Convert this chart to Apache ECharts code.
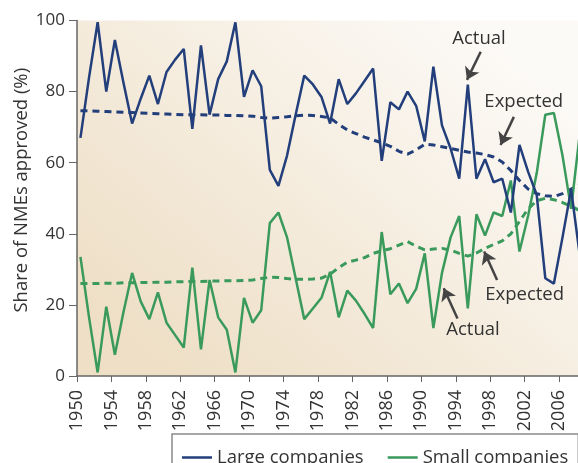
<!DOCTYPE html>
<html>
<head>
<meta charset="utf-8">
<script src="https://cdn.jsdelivr.net/npm/echarts@6/dist/echarts.min.js"></script>
<style>
html, body {margin: 0; padding: 0; background: #fff;}
#chart {width: 578px; height: 463px;}
</style>
</head>
<body>
<div id="chart"></div>
<script>
var years = [1950, 1951, 1952, 1953, 1954, 1955, 1956, 1957, 1958, 1959,
    1960, 1961, 1962, 1963, 1964, 1965, 1966, 1967, 1968, 1969,
    1970, 1971, 1972, 1973, 1974, 1975, 1976, 1977, 1978, 1979,
    1980, 1981, 1982, 1983, 1984, 1985, 1986, 1987, 1988, 1989,
    1990, 1991, 1992, 1993, 1994, 1995, 1996, 1997, 1998, 1999,
    2000, 2001, 2002, 2003, 2004, 2005, 2006, 2007, 2008];

// share of NMEs approved (%), actual
var largeActual = [67, 84, 99.5, 80, 94.5, 82.5, 71, 78, 84.5, 76.5,
    85.5, 89, 92, 69.5, 93, 73.5, 83.5, 88.5, 99.5, 78.5,
    86, 81.5, 58, 53.5, 62, 73.5, 84.5, 82, 78.5, 71,
    83.5, 76.5, 79.5, 83, 86.5, 60.5, 77, 75, 80, 76,
    66, 87, 70.5, 64, 55.5, 82, 55.5, 61, 54.5, 55.5,
    46, 65, 57.5, 51, 27.5, 26, 39, 52.5, 34];
var smallActual = [33.5, 16.5, 1, 19.5, 6, 18, 29, 21, 16, 23.5,
    15, 11.5, 8, 30.5, 7.5, 27, 16.5, 13, 1, 22,
    15, 18.5, 43, 46, 39, 27.5, 16, 19, 22, 29.3,
    16.5, 24, 21.2, 17.5, 13.5, 40.5, 23, 26, 20.5, 24.5,
    34.5, 13.5, 29, 39, 45, 19, 45.5, 39.5, 46, 45,
    55, 35, 45, 57, 73.5, 74, 62, 47, 68];

// expected share (%)
var largeExpected = [74.6, 74.6, 74.5, 74.4, 74.3, 74.2, 74.1, 74, 73.9, 73.8,
    73.7, 73.6, 73.5, 73.5, 73.5, 73.4, 73.4, 73.3, 73.3, 73.2,
    73.1, 72.7, 72.5, 72.7, 72.9, 73.2, 73.4, 73.3, 73, 72.6,
    70.8, 69.2, 68.2, 67.2, 66.4, 65.6, 64.6, 63.2, 62.4, 63.6,
    65.2, 65, 64.5, 64, 63.5, 63, 62.7, 62.3, 61.6, 60.2,
    57.8, 55, 52.6, 51.3, 50.7, 50.5, 51.3, 52.6, 53.8];
var smallExpected = [26, 26, 26, 26.1, 26.1, 26.2, 26.2, 26.3, 26.3, 26.4,
    26.4, 26.5, 26.5, 26.6, 26.6, 26.7, 26.7, 26.8, 26.8, 26.9,
    27, 27.4, 27.8, 27.7, 27.4, 27.2, 27.2, 27.3, 27.5, 28.6,
    30.5, 32, 32.6, 33.3, 34.5, 35.2, 35.8, 36.8, 37.8, 36.5,
    35.5, 35.7, 35.9, 35.4, 34.5, 33.7, 34.6, 35.9, 37, 38,
    40, 43.5, 47, 49.3, 50, 49.6, 48.8, 47.8, 46.5];

// annotations: label position and arrow [from, to], in [year, %]
var notes = [
    {text: 'Actual', at: [1996.7, 94.8], from: [1996.9, 91.2], to: [1995.3, 83.3]},
    {text: 'Expected', at: [2001.9, 77.1], from: [2000.75, 72.9], to: [1999.2, 65]},
    {text: 'Expected', at: [2002.0, 22.8], from: [1998.8, 27], to: [1997.3, 35]},
    {text: 'Actual', at: [1996.0, 12.9], from: [1994.2, 16.2], to: [1992.6, 24.7]}
];

var baseYear = 1950;
var midYear = 0.4;  // yearly values sit a bit past the year tick

function toPoints(values) {
    return years.map(function(y, i) {
        return [y - baseYear + midYear, values[i]];
    });
}
function xOf(year) {
    return year - baseYear;
}

var fontName = 'Open Sans';
var blue = '#223e7b';
var green = '#3a9a5c';

var myChart = echarts.init(document.getElementById('chart'));

myChart.setOption({
    animation: false,
    textStyle: {fontFamily: fontName},
    grid: {
        left: 77, right: 0, top: 20.5, bottom: 87,
        show: true,
        borderWidth: 0,
        backgroundColor: new echarts.graphic.LinearGradient(0.8, 0, 0.2, 1, [
            {offset: 0, color: '#fcfaf7'},
            {offset: 1, color: '#eedfc6'}
        ])
    },
    legend: {
        data: ['Large companies', 'Small companies'],
        left: 172,
        top: 434,
        width: 420,
        padding: [14, 10, 14, 10],
        icon: 'rect',
        itemWidth: 30,
        itemHeight: 2.5,
        itemGap: 24,
        borderColor: '#8a8a8a',
        borderWidth: 1.5,
        textStyle: {fontSize: 18.5, color: '#333', fontFamily: fontName}
    },
    xAxis: {
        type: 'value',
        min: 0,
        max: 58.2,
        interval: 4,
        splitLine: {show: false},
        axisLine: {lineStyle: {color: '#666', width: 1.5}},
        axisTick: {show: true, length: 6, lineStyle: {color: '#666'}},
        axisLabel: {
            rotate: 90,
            margin: 14,
            fontSize: 18,
            color: '#333',
            showMaxLabel: false,
            formatter: function(v) {
                return String(baseYear + v);
            }
        }
    },
    yAxis: {
        type: 'value',
        min: 0,
        max: 100,
        interval: 20,
        name: 'Share of NMEs approved (%)',
        nameLocation: 'middle',
        nameGap: 46,
        nameMoveOverlap: false,
        nameTextStyle: {fontSize: 18.5, color: '#333', padding: [0, 0, 0, 16]},
        splitLine: {show: false},
        axisLine: {show: true, lineStyle: {color: '#666', width: 1.5}},
        axisTick: {show: true, length: 8, lineStyle: {color: '#666'}},
        axisLabel: {fontSize: 17, color: '#333', margin: 12}
    },
    series: [
        {
            name: 'Large expected',
            type: 'line',
            symbol: 'none',
            data: toPoints(largeExpected),
            lineStyle: {color: blue, width: 3, type: [7, 5]}
        },
        {
            name: 'Small expected',
            type: 'line',
            symbol: 'none',
            data: toPoints(smallExpected),
            lineStyle: {color: green, width: 3, type: [7, 5]}
        },
        {
            name: 'Small companies',
            type: 'line',
            symbol: 'none',
            color: green,
            data: toPoints(smallActual),
            lineStyle: {color: green, width: 2.5}
        },
        {
            name: 'Large companies',
            type: 'line',
            symbol: 'none',
            color: blue,
            data: toPoints(largeActual),
            lineStyle: {color: blue, width: 2.5},
            markLine: {
                silent: true,
                symbol: ['none', 'arrow'],
                symbolSize: 12,
                label: {show: false},
                lineStyle: {color: '#444', width: 2.5, type: 'solid'},
                data: notes.map(function(n) {
                    return [
                        {coord: [xOf(n.from[0]), n.from[1]]},
                        {coord: [xOf(n.to[0]), n.to[1]]}
                    ];
                })
            },
            markPoint: {
                silent: true,
                symbol: 'rect',
                symbolSize: 0,
                label: {
                    show: true,
                    position: 'inside',
                    formatter: '{b}',
                    fontSize: 18.5,
                    color: '#333',
                    fontFamily: fontName
                },
                data: notes.map(function(n) {
                    return {name: n.text, coord: [xOf(n.at[0]), n.at[1]]};
                })
            }
        }
    ]
});
</script>
</body>
</html>
